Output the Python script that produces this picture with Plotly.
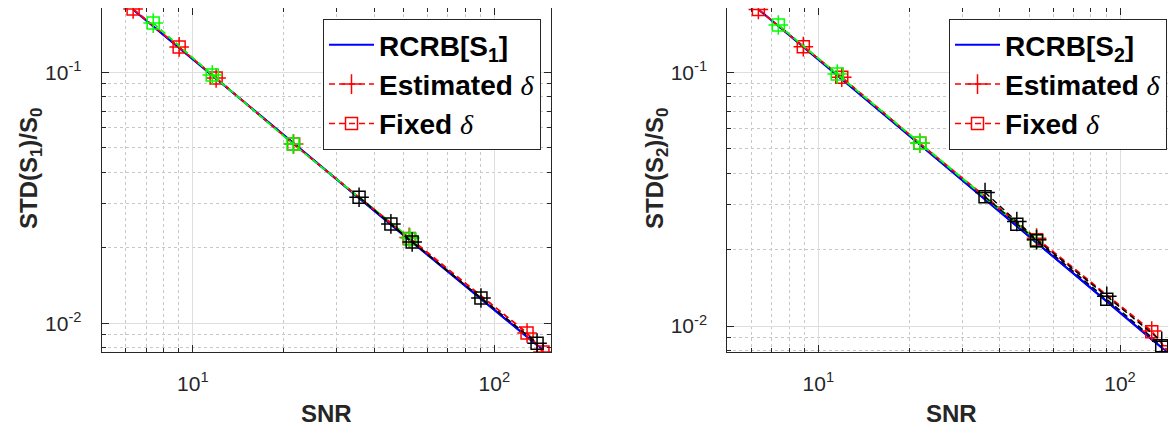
import numpy as np
import plotly.graph_objects as go

# ---------------- data ----------------
# Left panel: S1
L_red_snr = [6.34, 9.01, 11.95, 21.6, 52.2, 128.4, 145.0]
L_red_rcrb = [0.1775, 0.1255, 0.0945, 0.0521, 0.0215, 0.00885, 0.00785]
L_red_est = [0.1787, 0.1262, 0.0949, 0.0518, 0.0220, 0.00916, 0.00769]
L_red_fix = [0.1787, 0.1260, 0.0949, 0.0518, 0.0218, 0.00916, 0.00769]

L_grn_snr = [7.39, 11.6, 21.5, 52.5]
L_grn_rcrb = [0.1525, 0.0972, 0.0524, 0.0214]
L_grn_est = [0.1570, 0.0976, 0.0518, 0.0219]
L_grn_fix = [0.1570, 0.0976, 0.0518, 0.0217]

L_blk_snr = [35.6, 45.4, 53.4, 90.3, 138.6]
L_blk_rcrb = [0.0318, 0.0249, 0.0211, 0.01252, 0.00818]
L_blk_est = [0.0318, 0.0249, 0.0211, 0.01262, 0.00834]
L_blk_fix = [0.0318, 0.0249, 0.0211, 0.01262, 0.00834]

# Right panel: S2
R_red_snr = [6.33, 8.92, 11.96, 21.7, 52.9, 127.4, 144.6]
R_red_rcrb = [0.1770, 0.1255, 0.0940, 0.0520, 0.0213, 0.00885, 0.00785]
R_red_est = [0.1770, 0.1262, 0.0956, 0.0525, 0.0222, 0.00956, 0.00792]
R_red_fix = [0.1770, 0.1262, 0.0956, 0.0525, 0.0219, 0.00950, 0.00792]

R_grn_snr = [7.37, 11.56, 21.7, 52.9]
R_grn_rcrb = [0.1530, 0.0975, 0.0520, 0.0213]
R_grn_est = [0.1536, 0.0985, 0.0525, 0.0219]
R_grn_fix = [0.1536, 0.0985, 0.0525, 0.0217]

R_blk_snr = [35.7, 45.5, 52.9, 90.4, 137.5]
R_blk_rcrb = [0.0318, 0.0249, 0.0213, 0.01252, 0.00820]
R_blk_est = [0.0336, 0.0258, 0.0219, 0.01310, 0.00870]
R_blk_fix = [0.0323, 0.0252, 0.0217, 0.01274, 0.00836]

x_tickvals = [10, 100]
x_ticktext = ["10<sup>1</sup>", "10<sup>2</sup>"]
y_tickvals = [0.01, 0.1]
y_ticktext = ["10<sup>-2</sup>", "10<sup>-1</sup>"]

leg_names_L = ["RCRB[S<sub>1</sub>]", "Estimated", "Fixed"]
leg_names_R = ["RCRB[S<sub>2</sub>]", "Estimated", "Fixed"]

# ---------------- figure ----------------
FONT = "Liberation Sans, Arial, sans-serif"
DARK = "#262626"
DELTA = ' <span style="font-family:\'Liberation Serif\', serif;font-weight:normal"><i>δ</i></span>'

fig = go.Figure()


def add_panel(xa, ya, legend, names, groups):
    # blue RCRB lines first
    for i, (snr, rcrb, est, fix, col) in enumerate(groups):
        fig.add_trace(go.Scatter(
            x=snr, y=rcrb, mode="lines", xaxis=xa, yaxis=ya,
            line=dict(color="#0000ff", width=2),
            name="<b>" + names[0] + "</b>", legend=legend, legendrank=1,
            showlegend=(i == 0)))
    for i, (snr, rcrb, est, fix, col) in enumerate(groups):
        fig.add_trace(go.Scatter(
            x=snr, y=est, mode="lines+markers", xaxis=xa, yaxis=ya,
            line=dict(color=col, width=1.5, dash="6px,4px"),
            marker=dict(symbol="cross-thin-open", size=14, color=col,
                        line=dict(color=col, width=1.5)),
            name="<b>" + names[1] + "</b>" + DELTA, legend=legend, legendrank=2,
            showlegend=(i == 0)))
        fig.add_trace(go.Scatter(
            x=snr, y=fix, mode="lines+markers", xaxis=xa, yaxis=ya,
            line=dict(color=col, width=1.5, dash="6px,4px"),
            marker=dict(symbol="square-open", size=12, color=col,
                        line=dict(color=col, width=1.5)),
            name="<b>" + names[2] + "</b>" + DELTA, legend=legend, legendrank=3,
            showlegend=(i == 0)))


add_panel("x", "y", "legend", leg_names_L, [
    (L_red_snr, L_red_rcrb, L_red_est, L_red_fix, "#ff0000"),
    (L_grn_snr, L_grn_rcrb, L_grn_est, L_grn_fix, "#00ff00"),
    (L_blk_snr, L_blk_rcrb, L_blk_est, L_blk_fix, "#000000"),
])
add_panel("x2", "y2", "legend2", leg_names_R, [
    (R_red_snr, R_red_rcrb, R_red_est, R_red_fix, "#ff0000"),
    (R_grn_snr, R_grn_rcrb, R_grn_est, R_grn_fix, "#00ff00"),
    (R_blk_snr, R_blk_rcrb, R_blk_est, R_blk_fix, "#000000"),
])

# page has an 8px body margin: figure occupies screen (8..1176, 8..430)
OFF = 8
W, H = 1176 - OFF, 430 - OFF


def fx(p):
    return (p - OFF) / W


def fy(p):
    return 1 - (p - OFF) / H


minor_x = [m * 10 ** e for e in (0, 1, 2) for m in range(2, 10)]
minor_y = [m * 10 ** e for e in (-3, -2, -1) for m in range(2, 10)]


def xaxis(domain, rng, anchor):
    return dict(type="log", domain=domain, range=rng, anchor=anchor,
                tickvals=x_tickvals, ticktext=x_ticktext,
                ticks="inside", ticklen=7, tickcolor=DARK, tickwidth=1,
                showline=True, linecolor=DARK, linewidth=1, mirror="allticks",
                showgrid=True, gridcolor="#dedede", gridwidth=1,
                minor=dict(tickvals=minor_x, ticks="inside", ticklen=4,
                           tickcolor=DARK, showgrid=True, gridcolor="#c8c8c8",
                           griddash="dot", gridwidth=1),
                tickfont=dict(family=FONT, size=21, color=DARK),
                ticklabelstandoff=13, zeroline=False)


def yaxis(domain, rng, anchor):
    return dict(type="log", domain=domain, range=rng, anchor=anchor,
                tickvals=y_tickvals, ticktext=y_ticktext,
                ticks="inside", ticklen=7, tickcolor=DARK, tickwidth=1,
                showline=True, linecolor=DARK, linewidth=1, mirror="allticks",
                showgrid=True, gridcolor="#dedede", gridwidth=1,
                minor=dict(tickvals=minor_y, ticks="inside", ticklen=4,
                           tickcolor=DARK, showgrid=True, gridcolor="#c8c8c8",
                           griddash="dot", gridwidth=1),
                tickfont=dict(family=FONT, size=21, color=DARK),
                ticklabelstandoff=15, zeroline=False)


ydom = [fy(352), 1.0]
xa1 = xaxis([fx(101.7), fx(551)], [0.6979, 2.188], "y")
xa2 = xaxis([fx(727.3), 1.0], [0.6984, 2.1856], "y2")
ya1 = yaxis(ydom, [-2.114, -0.744], "x")
ya2 = yaxis(ydom, [-2.1025, -0.7465], "x2")

legend_common = dict(bgcolor="white", bordercolor=DARK, borderwidth=1,
                     font=dict(family=FONT, size=28, color="black"),
                     xanchor="left", yanchor="top", itemwidth=45,
                     tracegroupgap=0, traceorder="normal")

ann_font = dict(family=FONT, size=24, color=DARK)
fig.update_layout(
    width=W, height=H, autosize=False,
    margin=dict(l=0, r=0, t=0, b=0),
    paper_bgcolor="white", plot_bgcolor="white",
    xaxis=xa1, yaxis=ya1, xaxis2=xa2, yaxis2=ya2,
    legend=dict(x=fx(323), y=fy(19), **legend_common),
    legend2=dict(x=fx(949), y=fy(19), **legend_common),
    annotations=[
        dict(text="<b>SNR</b>", x=fx(326), y=fy(413), xref="paper", yref="paper",
             xanchor="center", yanchor="middle", showarrow=False, font=ann_font),
        dict(text="<b>SNR</b>", x=fx(951.6), y=fy(413), xref="paper", yref="paper",
             xanchor="center", yanchor="middle", showarrow=False, font=ann_font),
        dict(text="<b>STD(S<sub>1</sub>)/S<sub>0</sub></b>", x=fx(30), y=fy(169),
             xref="paper", yref="paper", xanchor="center", yanchor="middle",
             textangle=-90, showarrow=False, font=ann_font),
        dict(text="<b>STD(S<sub>2</sub>)/S<sub>0</sub></b>", x=fx(656), y=fy(169),
             xref="paper", yref="paper", xanchor="center", yanchor="middle",
             textangle=-90, showarrow=False, font=ann_font),
    ],
    showlegend=True,
)

fig.write_html("out.html")
